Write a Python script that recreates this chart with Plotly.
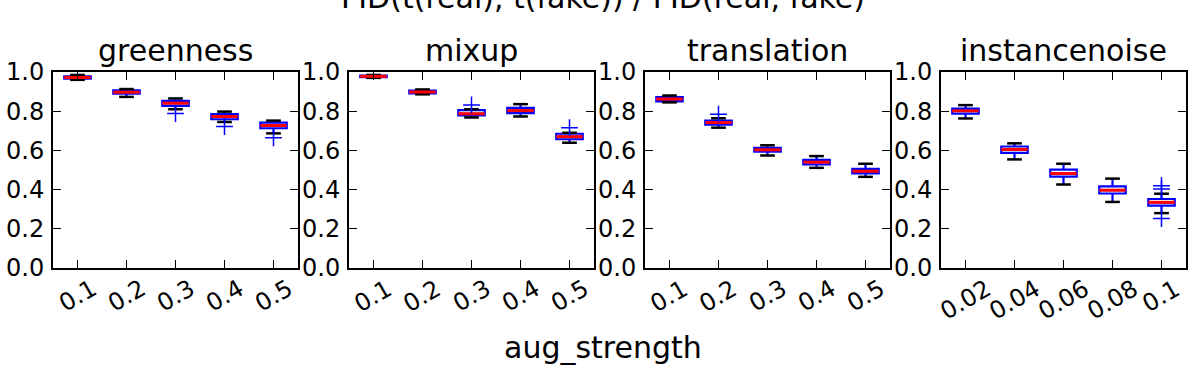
import plotly.graph_objects as go
from plotly.subplots import make_subplots

# ------------------------------------------------------------------
# Data
# ------------------------------------------------------------------
panel_names = ["greenness", "mixup", "translation", "instancenoise"]

strength_labels = ["0.1", "0.2", "0.3", "0.4", "0.5"]
noise_labels = ["0.02", "0.04", "0.06", "0.08", "0.1"]

greenness_q1 = [0.966, 0.889, 0.827, 0.759, 0.713]
greenness_med = [0.972, 0.897, 0.841, 0.773, 0.727]
greenness_q3 = [0.978, 0.906, 0.853, 0.785, 0.742]
greenness_lo = [0.960, 0.873, 0.810, 0.745, 0.687]
greenness_hi = [0.985, 0.913, 0.865, 0.798, 0.752]
greenness_fliers = [(2, 0.788), (3, 0.722), (4, 0.664)]

mixup_q1 = [0.974, 0.891, 0.778, 0.790, 0.657]
mixup_med = [0.978, 0.898, 0.787, 0.803, 0.670]
mixup_q3 = [0.982, 0.905, 0.805, 0.817, 0.685]
mixup_lo = [0.970, 0.886, 0.768, 0.773, 0.639]
mixup_hi = [0.985, 0.911, 0.810, 0.836, 0.690]
mixup_fliers = [(2, 0.832), (4, 0.716)]

translation_q1 = [0.850, 0.731, 0.593, 0.528, 0.483]
translation_med = [0.862, 0.742, 0.603, 0.540, 0.494]
translation_q3 = [0.872, 0.752, 0.613, 0.552, 0.506]
translation_lo = [0.845, 0.716, 0.574, 0.511, 0.465]
translation_hi = [0.880, 0.764, 0.626, 0.571, 0.532]
translation_fliers = [(1, 0.785)]

noise_q1 = [0.788, 0.587, 0.466, 0.380, 0.318]
noise_med = [0.802, 0.605, 0.482, 0.397, 0.335]
noise_q3 = [0.813, 0.620, 0.502, 0.416, 0.352]
noise_lo = [0.763, 0.554, 0.426, 0.337, 0.280]
noise_hi = [0.831, 0.636, 0.532, 0.456, 0.379]
noise_fliers = [(4, 0.403), (4, 0.420), (4, 0.252)]

panels = [
    (strength_labels, greenness_q1, greenness_med, greenness_q3, greenness_lo, greenness_hi, greenness_fliers),
    (strength_labels, mixup_q1, mixup_med, mixup_q3, mixup_lo, mixup_hi, mixup_fliers),
    (strength_labels, translation_q1, translation_med, translation_q3, translation_lo, translation_hi, translation_fliers),
    (noise_labels, noise_q1, noise_med, noise_q3, noise_lo, noise_hi, noise_fliers),
]

FONT = "DejaVu Sans"
BOX_W = 0.54
CAP_W = 0.30

fig = make_subplots(rows=1, cols=4, horizontal_spacing=0.045)

annotations = []
for col, (labels, q1, med, q3, lo, hi, fliers) in enumerate(panels, start=1):
    pos = list(range(len(labels)))

    fig.add_trace(
        go.Box(
            x=pos, q1=q1, median=med, q3=q3, lowerfence=lo, upperfence=hi,
            width=BOX_W, whiskerwidth=0, boxpoints=False,
            line=dict(color="#0000ff", width=2.2),
            fillcolor="rgba(255,255,255,0)",
        ),
        row=1, col=col,
    )

    # black caps at whisker ends
    cx, cy = [], []
    for p, a, b in zip(pos, lo, hi):
        cx += [p - CAP_W / 2, p + CAP_W / 2, None, p - CAP_W / 2, p + CAP_W / 2, None]
        cy += [a, a, None, b, b, None]
    fig.add_trace(
        go.Scatter(x=cx, y=cy, mode="lines", line=dict(color="black", width=2.5),
                   hoverinfo="skip"),
        row=1, col=col,
    )

    # red medians
    mx, my = [], []
    for p, m in zip(pos, med):
        mx += [p - BOX_W / 2, p + BOX_W / 2, None]
        my += [m, m, None]
    fig.add_trace(
        go.Scatter(x=mx, y=my, mode="lines", line=dict(color="#ff0000", width=3),
                   hoverinfo="skip"),
        row=1, col=col,
    )

    # blue "+" fliers
    fig.add_trace(
        go.Scatter(
            x=[f[0] for f in fliers], y=[f[1] for f in fliers], mode="markers",
            marker=dict(symbol="cross-thin", size=12, line=dict(color="#0000ff", width=1.5)),
        ),
        row=1, col=col,
    )

    xname = "x" if col == 1 else f"x{col}"
    annotations.append(dict(
        text=panel_names[col - 1], xref=f"{xname} domain", yref="paper",
        x=0.5, y=1, xanchor="center", yanchor="bottom", yshift=2, showarrow=False,
        font=dict(size=30, color="black", family=FONT),
    ))
    for p, lab in zip(pos, labels):
        annotations.append(dict(
            text=lab, xref=xname, yref="paper", x=p, y=0,
            xanchor="center", yanchor="top", yshift=-4, textangle=-30,
            showarrow=False, font=dict(size=24, color="black", family=FONT),
        ))

annotations.append(dict(
    text="FID(t(real), t(fake)) / FID(real, fake)", xref="paper", yref="paper",
    x=0.485, y=(268 - 9) / 196, xanchor="center", yanchor="bottom", yshift=-8,
    showarrow=False, font=dict(size=30, color="black", family=FONT),
))
annotations.append(dict(
    text="aug_strength", xref="paper", yref="paper",
    x=0.485, y=0, xanchor="center", yanchor="top", yshift=-60,
    showarrow=False, font=dict(size=30, color="black", family=FONT),
))

fig.update_xaxes(
    range=[-0.5, 4.5], tickvals=[0, 1, 2, 3, 4], showticklabels=False,
    ticks="inside", ticklen=8, tickwidth=1, tickcolor="black",
    showline=True, linecolor="black", linewidth=2, mirror="ticks",
    showgrid=False, zeroline=False, automargin=False,
)
fig.update_yaxes(
    range=[0, 1], tickvals=[0, 0.2, 0.4, 0.6, 0.8, 1.0], tickformat=".1f",
    ticks="inside", ticklen=8, tickwidth=1, tickcolor="black",
    showline=True, linecolor="black", linewidth=2, mirror="ticks",
    showgrid=False, zeroline=False, automargin=False, ticklabelstandoff=2,
    tickfont=dict(size=24, color="black", family=FONT),
)

fig.update_layout(
    width=1196, height=372,
    margin=dict(l=53, r=10, t=72, b=104),
    showlegend=False,
    plot_bgcolor="white", paper_bgcolor="white",
    font=dict(family=FONT, color="black"),
    annotations=annotations,
)

# drop the default 8px page margin so the figure sits at the window corner
fig.write_html(
    "out.html",
    config={"displayModeBar": False},
    post_script="document.body.style.margin='0';",
)
